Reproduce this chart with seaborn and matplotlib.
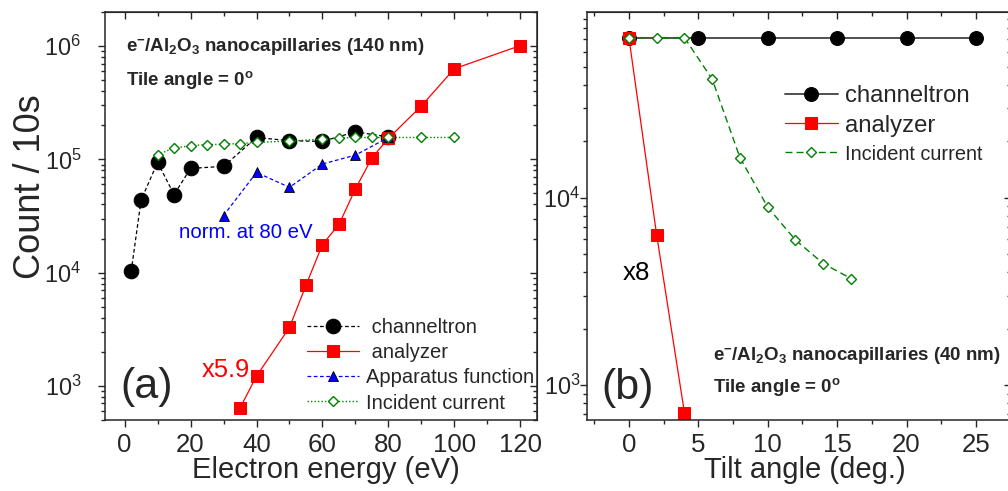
import numpy as np
import pandas as pd
import matplotlib
matplotlib.use('Agg')
import matplotlib.pyplot as plt
import seaborn as sns
from matplotlib.ticker import MultipleLocator, LogLocator, NullFormatter

sns.set_style('ticks')
plt.rcParams['font.family'] = ['Liberation Sans', 'DejaVu Sans']
plt.rcParams['mathtext.fontset'] = 'custom'
plt.rcParams['mathtext.rm'] = 'Liberation Sans'
plt.rcParams['mathtext.it'] = 'Liberation Sans:italic'
plt.rcParams['mathtext.bf'] = 'Liberation Sans:bold'

# (a) energy scan, 140 nm capillaries
energy_ch = [2, 5, 10, 15, 20, 30, 40, 50, 60, 70, 80]
count_ch = [10300, 43800, 94000, 48900, 83200, 86700, 156000, 146000, 144000, 175000, 158000]
energy_an = [35, 40, 50, 55, 60, 65, 70, 75, 80, 90, 100, 120]
count_an = [637, 1220, 3280, 7730, 17700, 26600, 54800, 103000, 153000, 296000, 631000, 1010000]
energy_app = [30, 40, 50, 60, 70, 80]
count_app = [31900, 76600, 56600, 91000, 109000, 156000]
energy_inc = [10, 15, 20, 25, 30, 35, 40, 50, 60, 65, 70, 75, 80, 90, 100]
count_inc = [110000, 126000, 132000, 135000, 136000, 138000, 141000, 145000,
             151000, 154000, 156000, 156000, 156000, 156000, 156000]

# (b) tilt scan, 40 nm capillaries
tilt_ch = [0, 5, 10, 15, 20, 25]
tcount_ch = [71500, 71500, 71500, 71500, 71500, 71500]
tilt_an = [0, 2, 4]
tcount_an = [71500, 6320, 711]
tilt_inc = [0, 2, 4, 6, 8, 10, 12, 14, 16]
tcount_inc = [71500, 71500, 71500, 42900, 16350, 8890, 5940, 4450, 3700]

GREEN = '#008000'


def line(ax, x, y, label, **kw):
    df = pd.DataFrame({'x': x, 'y': y})
    sns.lineplot(data=df, x='x', y='y', ax=ax, label=label, errorbar=None, **kw)


def style_axes(ax, major, minor, ypad):
    ax.set_yscale('log')
    ax.xaxis.set_major_locator(MultipleLocator(major))
    ax.xaxis.set_minor_locator(MultipleLocator(minor))
    ax.yaxis.set_major_locator(LogLocator(base=10))
    ax.yaxis.set_minor_locator(LogLocator(base=10, subs=np.arange(2, 10)))
    ax.yaxis.set_minor_formatter(NullFormatter())
    ax.tick_params(which='major', direction='out', length=5, width=1)
    ax.tick_params(which='minor', direction='out', length=3, width=1)
    ax.tick_params(axis='x', which='major', pad=4, labelsize=18.6)
    ax.tick_params(axis='y', which='major', pad=ypad, labelsize=16.8)
    for s in ax.spines.values():
        s.set_linewidth(1.1)
        s.set_visible(True)
    # mirrored ticks pointing inward on top / right
    top = ax.secondary_xaxis('top')
    top.xaxis.set_major_locator(MultipleLocator(major))
    top.xaxis.set_minor_locator(MultipleLocator(minor))
    top.tick_params(which='major', direction='in', length=5, width=1, labeltop=False)
    top.tick_params(which='minor', direction='in', length=3, width=1)
    right = ax.secondary_yaxis('right')
    right.yaxis.set_major_locator(LogLocator(base=10))
    right.yaxis.set_minor_locator(LogLocator(base=10, subs=np.arange(2, 10)))
    right.tick_params(which='major', direction='in', length=5, width=1, labelright=False)
    right.tick_params(which='minor', direction='in', length=3, width=1, labelright=False)
    ax.set_xlabel('')
    ax.set_ylabel('')


fig = plt.figure(figsize=(10.08, 4.91), dpi=100)
ax1 = fig.add_axes([0.1040, 0.1446, 0.4285, 0.8310])
ax2 = fig.add_axes([0.5826, 0.1446, 0.4200, 0.8310])

# ---- panel (a)
line(ax1, energy_ch, count_ch, ' channeltron', color='black', linestyle=(0, (3, 2)), linewidth=0.9,
     marker='o', markersize=10.5, markerfacecolor='black', markeredgecolor='black')
line(ax1, energy_an, count_an, ' analyzer', color='red', linestyle='-', linewidth=0.9,
     marker='s', markersize=8.5, markerfacecolor='red', markeredgecolor='red')
line(ax1, energy_app, count_app, 'Apparatus function', color='blue', linestyle=(0, (3, 2)), linewidth=0.9,
     marker='^', markersize=6.5, markerfacecolor='blue', markeredgecolor='black', markeredgewidth=0.6)
line(ax1, energy_inc, count_inc, 'Incident current', color=GREEN, linestyle=(0, (1, 1.5)), linewidth=1,
     marker='D', markersize=5.5, markerfacecolor='white', markeredgecolor=GREEN, markeredgewidth=1)

style_axes(ax1, 20, 10, ypad=12)
ax1.set_xlim(-6, 125)
ax1.set_ylim(500, 2e6)
ax1.set_ylabel('Count / 10s', fontsize=26)
ax1.yaxis.set_label_coords(-0.132, 0.571)
ax1.set_xlabel('Electron energy (eV)', fontsize=21)
ax1.xaxis.set_label_coords(0.511, -0.088)

leg1 = ax1.legend(loc='upper left', bbox_to_anchor=(0.468, 0.249), frameon=False, fontsize=14.5,
                  handlelength=2.6, handletextpad=0.35, labelspacing=0.3, borderpad=0, borderaxespad=0)

ax1.text(0.05, 0.915, r'e$^{\mathbf{-}}$/Al$_{\mathbf{2}}$O$_{\mathbf{3}}$ nanocapillaries (140 nm)',
         transform=ax1.transAxes, fontsize=13.5, fontweight='bold', va='center', ha='left')
ax1.text(0.05, 0.834, r'Tile angle = 0$^{\mathbf{o}}$',
         transform=ax1.transAxes, fontsize=13.5, fontweight='bold', va='center', ha='left')
ax1.text(16.4, 22700, 'norm. at 80 eV', color='blue', fontsize=14.7, va='center', ha='left')
ax1.text(23.3, 1376, 'x5.9', color='red', fontsize=18.4, va='center', ha='left')
ax1.text(0.035, 0.082, '(a)', transform=ax1.transAxes, fontsize=31, va='center', ha='left')

# ---- panel (b)
line(ax2, tilt_ch, tcount_ch, 'channeltron', color='#505050', linestyle='-', linewidth=1.4,
     marker='o', markersize=10, markerfacecolor='black', markeredgecolor='black')
line(ax2, tilt_an, tcount_an, 'analyzer', color='red', linestyle='-', linewidth=0.9,
     marker='s', markersize=8.5, markerfacecolor='red', markeredgecolor='red')
line(ax2, tilt_inc, tcount_inc, 'Incident current', color=GREEN, linestyle=(0, (5, 3)), linewidth=1,
     marker='D', markersize=5.5, markerfacecolor='white', markeredgecolor=GREEN, markeredgewidth=1)

style_axes(ax2, 5, 2.5, ypad=0)
ax2.set_xlim(-3, 27.5)
ax2.set_ylim(650, 9.8e4)
ax2.set_xlabel('Tilt angle (deg.)', fontsize=21)
ax2.xaxis.set_label_coords(0.513, -0.088)

leg2 = ax2.legend(loc='upper left', bbox_to_anchor=(0.467, 0.82), frameon=False, fontsize=17.2,
                  handlelength=2.2, handletextpad=0.3, labelspacing=0.3, borderpad=0, borderaxespad=0)
leg2.get_texts()[2].set_fontsize(14.4)

ax2.text(-0.45, 3945, 'x8', color='black', fontsize=18.6, va='center', ha='left')
ax2.text(0.034, 0.078, '(b)', transform=ax2.transAxes, fontsize=31, va='center', ha='left')
ax2.text(0.297, 0.159, r'e$^{\mathbf{-}}$/Al$_{\mathbf{2}}$O$_{\mathbf{3}}$ nanocapillaries (40 nm)',
         transform=ax2.transAxes, fontsize=13.5, fontweight='bold', va='center', ha='left')
ax2.text(0.297, 0.082, r'Tile angle = 0$^{\mathbf{o}}$',
         transform=ax2.transAxes, fontsize=13.5, fontweight='bold', va='center', ha='left')

fig.savefig('out.png', dpi=100)
